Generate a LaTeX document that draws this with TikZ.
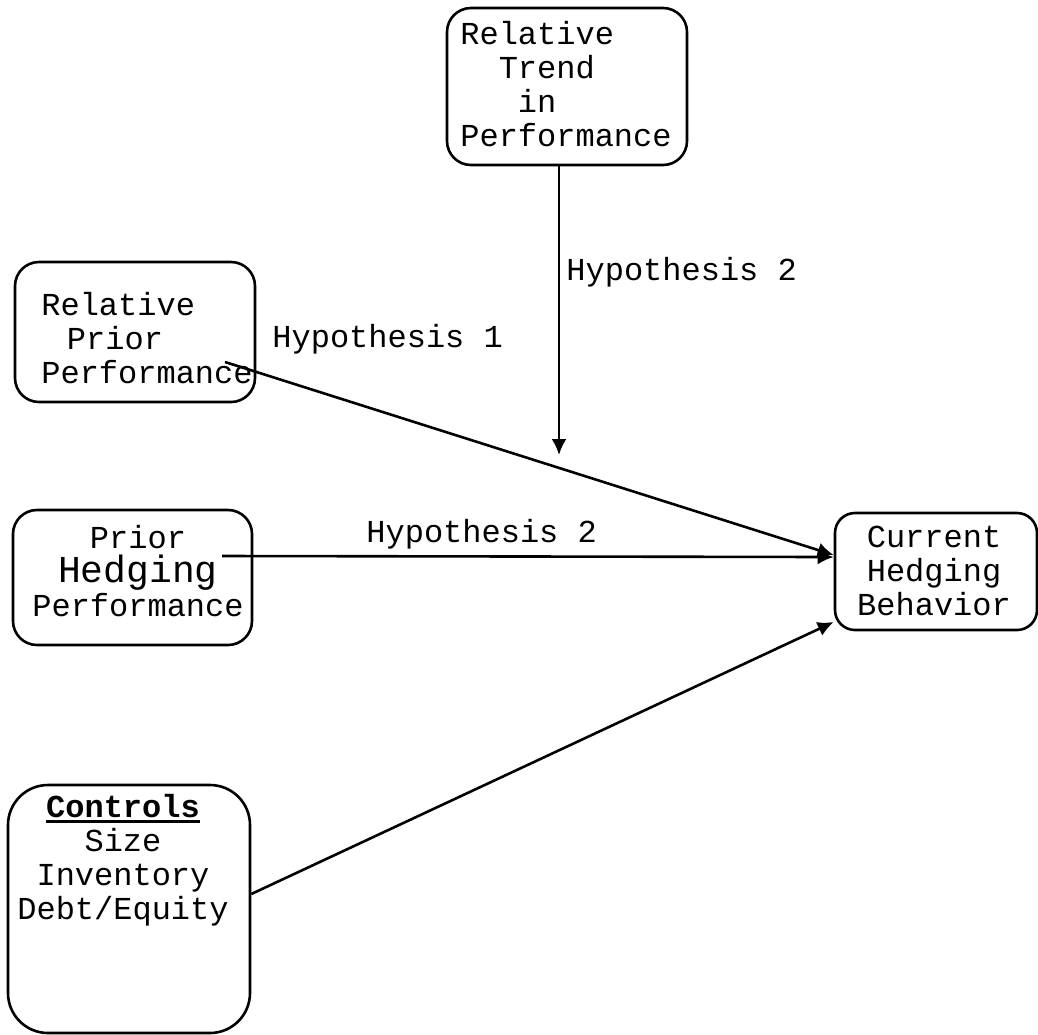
\documentclass[tikz,border=0pt]{standalone}
\usepackage{fontspec}
\setmainfont{Liberation Mono}
\usetikzlibrary{arrows.meta}
\newcommand\thickul[1]{\vtop{\hbox{#1}\kern1.2pt\hrule height 1.4pt}}
\begin{document}
\begin{tikzpicture}[x=0.5pt,y=-0.5pt,
  box/.style={draw, line width=1.3pt, rounded corners=12pt, inner sep=0pt},
  txt/.style={font=\fontsize{16pt}{17pt}\selectfont, inner sep=0pt},
  lab/.style={font=\fontsize{16pt}{17pt}\selectfont, inner sep=0pt, anchor=base west},
  arr/.style={line width=1.3pt, -{Latex[length=8pt,width=7.5pt]}}]
\useasboundingbox (0,0) rectangle (1038,1034);
% boxes
\node[box, minimum width=120pt, minimum height=78.5pt] (trend) at (567,86.5) {};
\node[box, minimum width=120pt, minimum height=70pt] (relprior) at (135,332) {};
\node[box, minimum width=119.5pt, minimum height=67.5pt] (hedge) at (132.5,577.5) {};
\node[box, rounded corners=20pt, minimum width=121pt, minimum height=124pt] (ctrl) at (129,909) {};
\node[box, rounded corners=10pt, minimum width=101pt, minimum height=58.5pt] (cur) at (936,571.5) {};
% texts
\node[txt, align=left] (trendtxt) at (566,84) {Relative\\\hspace*{1.2em}Trend\\\hspace*{1.8em}in\\Performance};
\node[txt, align=left] (relpriortxt) at (147,338) {Relative\\\hspace*{0.8em}Prior\\Performance};
\node[txt, align=center] (hedgetxt) at (138,571) {Prior\\{\fontsize{19pt}{19pt}\selectfont Hedging}\\Performance};
\node[txt, align=center] (ctrltxt) at (123,860) {\thickul{\textbf{Controls}}\\Size\\Inventory\\Debt/Equity};
\node[txt, align=center] (curtxt) at (934,571) {Current\\Hedging\\Behavior};
% free ends
\coordinate (h2tip) at (559,455);
\coordinate (rpstart) at (225,362);
\coordinate (phstart) at (222,556);
% connectors
\draw[arr] (trend.south -| h2tip) -- (h2tip);
\draw[arr] (rpstart) -- (cur.west |- 0,555);
\draw[arr] (phstart) -- (cur.west |- 0,557);
\draw[arr] (ctrl.east |- 0,894) -- (cur.west |- 0,622);
% labels
\node[lab] (lh2a) at (566,280) {Hypothesis 2};
\node[lab] (lh1) at (272,347) {Hypothesis 1};
\node[lab] (lh2b) at (366,542) {Hypothesis 2};
\end{tikzpicture}
\end{document}
